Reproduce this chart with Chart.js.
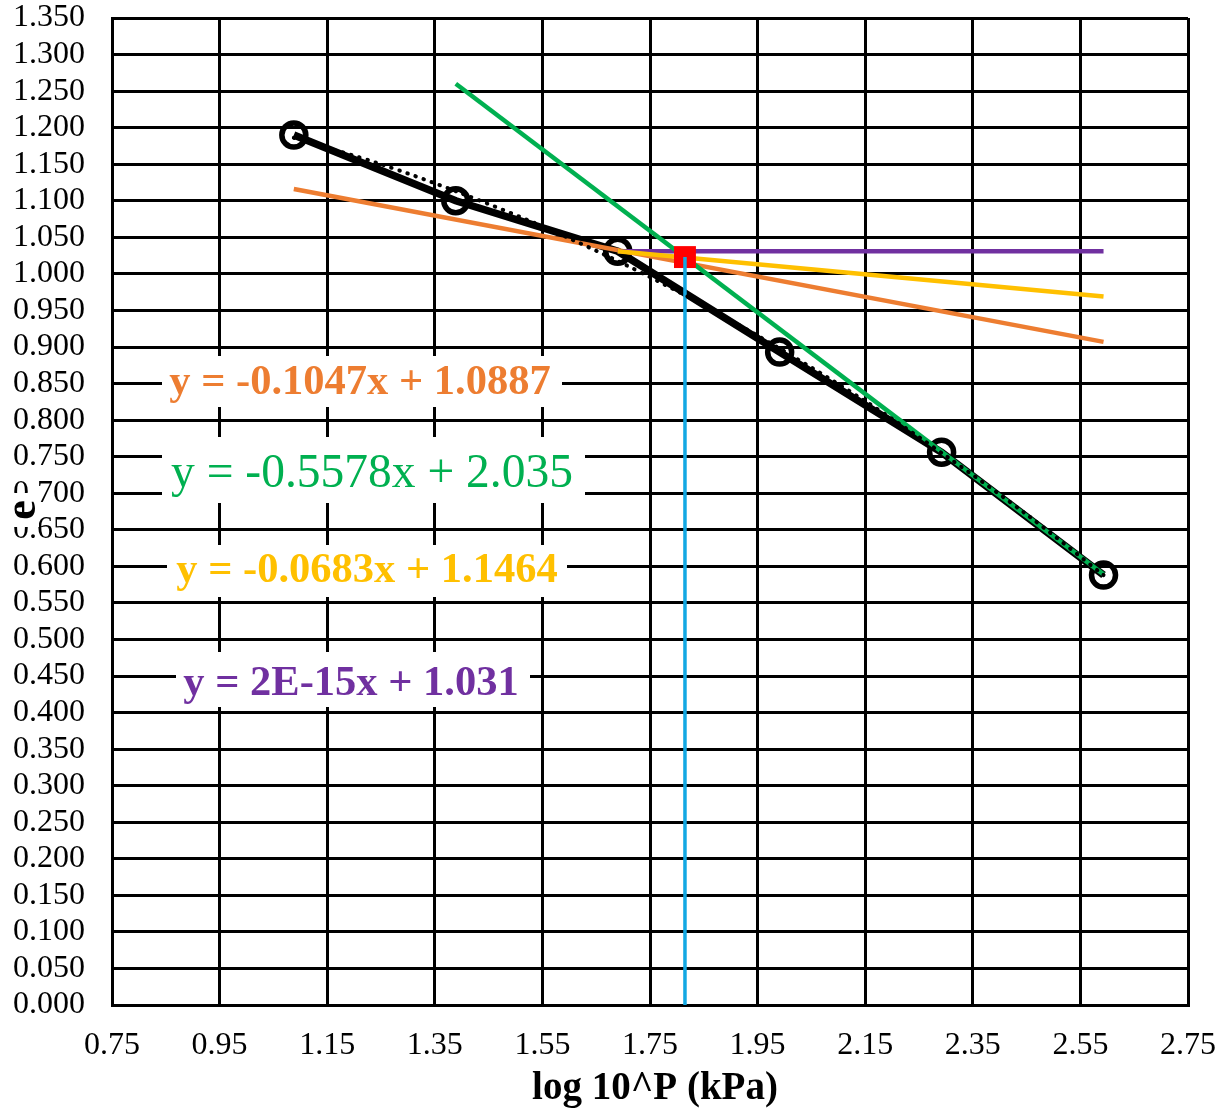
<!DOCTYPE html>
<html>
<head>
<meta charset="utf-8">
<script src="https://cdn.jsdelivr.net/npm/chart.js@4.4.1/dist/chart.umd.min.js"></script>
<style>
  body { margin: 0; background: #fff; }
  canvas { display: block; }
</style>
</head>
<body>
<canvas id="chart" width="1227" height="1112"></canvas>
<script>
// measured points: log10 of pressure vs void ratio
let logP = [1.088, 1.389, 1.690, 1.991, 2.292, 2.593]
let voidRatio = [1.190, 1.100, 1.031, 0.893, 0.756, 0.588]

// dotted poly trendline
let trendX = [1.088, 1.25, 1.40, 1.55, 1.70, 1.85, 2.00, 2.15, 2.30, 2.45, 2.593]
let trendY = [1.186, 1.150, 1.110, 1.065, 1.014, 0.957, 0.894, 0.826, 0.751, 0.671, 0.588]

// straight construction lines
let greenX = [1.389, 2.593]
let greenY = [1.260, 0.589]
let orangeX = [1.088, 2.593]
let orangeY = [1.116, 0.907]
let yellowX = [1.690, 2.593]
let yellowY = [1.031, 0.969]
let purpleX = [1.690, 2.593]
let purpleY = [1.031, 1.031]

// preconsolidation point + drop line
let pcX = [1.815]
let pcY = [1.023]
let dropX = [1.815, 1.815]
let dropY = [1.023, 0.000]

let xTicks = [0.75, 0.95, 1.15, 1.35, 1.55, 1.75, 1.95, 2.15, 2.35, 2.55, 2.75]
let yTicks = []
for (let i = 0; i <= 27; i++) yTicks.push(Math.round(i * 5) / 100)

let equations = [
    { text: "y = -0.1047x + 1.0887", color: "#ED7D31", bold: true, size: 42.5, cx: 360, cy: 383, box: [162, 356, 400, 51] },
    { text: "y = -0.5578x + 2.035", color: "#00B050", bold: false, size: 47.5, cx: 372, cy: 475, box: [162, 437, 423, 66] },
    { text: "y = -0.0683x + 1.1464", color: "#FFC000", bold: true, size: 42.5, cx: 367, cy: 571, box: [167, 545, 400, 52] },
    { text: "y = 2E-15x + 1.031", color: "#7030A0", bold: true, size: 42.5, cx: 351, cy: 684, box: [176, 652, 354, 55] }
]

function pts(xs, ys) {
    let out = []
    for (let i = 0; i < xs.length; i++) out.push({ x: xs[i], y: ys[i] })
    return out
}

const serif = "'Liberation Serif', 'Times New Roman', serif"

let labelPlugin = {
    id: "labels",
    afterDatasetsDraw(chart) {
        let ctx = chart.ctx
        ctx.save()
        for (let eq of equations) {
            ctx.fillStyle = "#fff"
            ctx.fillRect(eq.box[0], eq.box[1], eq.box[2], eq.box[3])
            ctx.font = (eq.bold ? "bold " : "") + eq.size + "px " + serif
            ctx.fillStyle = eq.color
            ctx.textAlign = "center"
            ctx.textBaseline = "middle"
            ctx.fillText(eq.text, eq.cx, eq.cy)
        }
        // axis titles
        ctx.fillStyle = "#000"
        ctx.font = "bold 39px " + serif
        ctx.textAlign = "center"
        ctx.textBaseline = "middle"
        ctx.fillText("log 10^P (kPa)", 655, 1089)

        ctx.translate(24, 510)
        ctx.rotate(-Math.PI / 2)
        ctx.fillStyle = "#fff"
        ctx.fillRect(-17, -15, 34, 30)
        ctx.fillStyle = "#000"
        ctx.font = "bold 44px " + serif
        ctx.fillText("e", 0, 0)
        ctx.restore()
    }
}

const ctx = document.getElementById("chart").getContext("2d")
const chart = new Chart(ctx, {
    type: "scatter",
    data: {
        datasets: [
            { data: pts(trendX, trendY), showLine: true, borderColor: "#000", borderWidth: 4, borderDash: [0.5, 8], borderCapStyle: "round", pointRadius: 0, tension: 0.3 },
            { data: pts(dropX, dropY), showLine: true, borderColor: "#12A8E3", borderWidth: 3.5, pointRadius: 0 },
            { data: pts(pcX, pcY), pointStyle: "rect", pointRadius: 15.5, backgroundColor: "#FF0000", borderColor: "#FF0000", borderWidth: 0 },
            { data: pts(greenX, greenY), showLine: true, borderColor: "#00B050", borderWidth: 4.5, pointRadius: 0 },
            { data: pts(yellowX, yellowY), showLine: true, borderColor: "#FFC000", borderWidth: 4.5, pointRadius: 0 },
            { data: pts(purpleX, purpleY), showLine: true, borderColor: "#7030A0", borderWidth: 4.5, pointRadius: 0 },
            { data: pts(orangeX, orangeY), showLine: true, borderColor: "#ED7D31", borderWidth: 4.5, pointRadius: 0 },
            { data: pts(logP, voidRatio), showLine: true, borderColor: "#000", borderWidth: 7.5, pointRadius: 12, pointBorderWidth: 5.5, pointBackgroundColor: "rgba(0,0,0,0)", pointBorderColor: "#000" }
        ]
    },
    options: {
        responsive: false,
        animation: false,
        layout: { padding: { top: 18, right: 39, left: 0, bottom: 0 } },
        plugins: { legend: { display: false }, tooltip: { enabled: false } },
        scales: {
            x: {
                type: "linear", min: 0.75, max: 2.75,
                afterBuildTicks: (s) => { s.ticks = xTicks.map(v => ({ value: v })) },
                afterFit: (s) => { s.height = 107; s.paddingLeft = 0; s.paddingRight = 0 },
                grid: { color: "#000", lineWidth: 3, drawTicks: false },
                border: { color: "#000", width: 3 },
                ticks: { color: "#000", padding: 21, autoSkip: false, maxRotation: 0, font: { family: serif, size: 32 }, callback: (v) => Number(v).toFixed(2) }
            },
            y: {
                type: "linear", min: 0, max: 1.35,
                afterBuildTicks: (s) => { s.ticks = yTicks.map(v => ({ value: v })) },
                afterFit: (s) => { s.width = 112; s.paddingTop = 0; s.paddingBottom = 0 },
                grid: { color: "#000", lineWidth: 3, drawTicks: false },
                border: { color: "#000", width: 3 },
                ticks: { color: "#000", padding: 27, autoSkip: false, font: { family: serif, size: 32 }, callback: (v) => Number(v).toFixed(3) }
            }
        }
    },
    plugins: [labelPlugin]
})
</script>
</body>
</html>
